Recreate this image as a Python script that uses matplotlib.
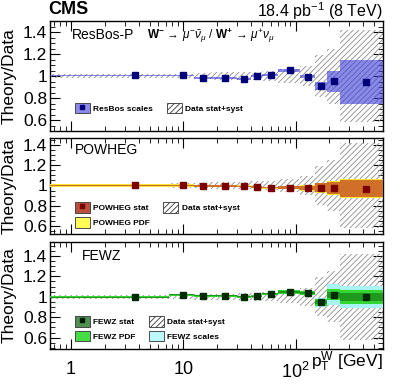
import numpy as np
import matplotlib
matplotlib.use('Agg')
import matplotlib.pyplot as plt
from matplotlib.patches import Patch
from matplotlib.lines import Line2D
from matplotlib.ticker import FixedLocator, MultipleLocator, FormatStrFormatter, LogLocator, NullFormatter

plt.rcParams['font.family'] = ['Liberation Sans', 'DejaVu Sans']
plt.rcParams['hatch.linewidth'] = 0.6
plt.rcParams['mathtext.fontset'] = 'custom'
plt.rcParams['mathtext.rm'] = 'Liberation Sans'
plt.rcParams['mathtext.it'] = 'Liberation Sans:italic'
plt.rcParams['mathtext.bf'] = 'Liberation Sans:bold'

# ---------------- data ----------------
pt_edges = [0.5, 7.5, 12.5, 17.5, 30, 40, 50, 70, 110, 150, 190, 250, 600]
pt_centers = [3.75, 10, 15, 23.75, 35, 45, 60, 90, 130, 170, 220, 425]

data_err = [0.018, 0.02, 0.028, 0.032, 0.036, 0.04, 0.045, 0.06, 0.09, 0.19, 0.25, 0.42]

resbos = [1.005, 1.005, 0.985, 0.985, 0.972, 0.997, 1.012, 1.052, 0.994, 0.911, 0.954, 0.948]
resbos_scale = [0.008, 0.008, 0.008, 0.008, 0.008, 0.008, 0.008, 0.012, 0.015, 0.035, 0.095, 0.2]

powheg = [1.0, 1.0, 0.996, 0.996, 0.993, 0.986, 0.98, 0.98, 0.973, 0.976, 0.973, 0.97]
powheg_stat = [0.006, 0.006, 0.006, 0.006, 0.006, 0.006, 0.006, 0.012, 0.022, 0.045, 0.06, 0.085]
powheg_pdf = [0.01, 0.01, 0.01, 0.01, 0.01, 0.01, 0.01, 0.016, 0.028, 0.052, 0.068, 0.095]

fewz = [0.995, 1.02, 1.01, 1.01, 1.0, 1.004, 1.03, 1.047, 1.036, 0.945, 1.02, 1.0]
fewz_stat = [0.005, 0.005, 0.005, 0.005, 0.005, 0.005, 0.005, 0.01, 0.012, 0.02, 0.03, 0.04]
fewz_pdf = [0.009, 0.009, 0.009, 0.009, 0.009, 0.009, 0.009, 0.015, 0.02, 0.035, 0.055, 0.07]
fewz_scale = [0.011, 0.011, 0.011, 0.011, 0.011, 0.011, 0.011, 0.017, 0.023, 0.04, 0.1, 0.105]

# ---------------- layout ----------------
W, H = 399, 387
fig = plt.figure(figsize=(W / 100, H / 100), dpi=100)

def px_axes(top, bottom, left=50, right=383):
    return fig.add_axes([left / W, 1 - bottom / H, (right - left) / W, (bottom - top) / H])

ax1 = px_axes(21, 131)
ax2 = px_axes(138, 234)
ax3 = px_axes(242, 349)
ylims = [(0.5, 1.5), (0.52, 1.47), (0.49, 1.535)]

def band(ax, center, half, **kw):
    c = np.array(center)
    h = np.array(half)
    ax.stairs(c + h, pt_edges, baseline=c - h, fill=True, **kw)

def data_band(ax):
    e = np.array(data_err)
    ax.stairs(1 + e, pt_edges, baseline=1 - e, fill=True, facecolor='none',
              edgecolor='#8c8c8c', hatch='//////', linewidth=0, zorder=2)

for ax, yl in zip([ax1, ax2, ax3], ylims):
    ax.set_xscale('log')
    ax.set_xlim(0.65, 600)
    ax.set_ylim(*yl)
    ax.yaxis.set_major_locator(FixedLocator([0.6, 0.8, 1.0, 1.2, 1.4]))
    ax.yaxis.set_major_formatter(FormatStrFormatter('%g'))
    ax.yaxis.set_minor_locator(MultipleLocator(0.05))
    ax.xaxis.set_major_locator(LogLocator(base=10, numticks=10))
    ax.xaxis.set_minor_locator(LogLocator(base=10, subs=np.arange(2, 10), numticks=20))
    ax.xaxis.set_minor_formatter(NullFormatter())
    ax.tick_params(which='both', direction='in', top=True, right=True, labelsize=12.5)
    ax.tick_params(which='major', length=7, width=0.8, pad=2)
    ax.tick_params(which='minor', length=3.5, width=0.6)
    for s in ax.spines.values():
        s.set_linewidth(1.0)
    ax.set_ylabel('Theory/Data', fontsize=12.5)
    ax.yaxis.set_label_coords(-0.1, 0.5)
    data_band(ax)

ax1.tick_params(axis='x', labelbottom=False)
ax2.tick_params(axis='x', labelbottom=False)
ax3.tick_params(axis='x', which='major', pad=9)
ax3.set_xticks([1, 10, 100])
ax3.set_xticklabels(['1', '10', '$10^{2}$'], fontsize=13)

mk = dict(marker='s', markersize=4, linestyle='none', zorder=6)

# ResBos
band(ax1, resbos, resbos_scale, facecolor='#3b3bd9', alpha=0.6, linewidth=0, zorder=3)
ax1.plot(pt_centers, resbos, color='#00007a', **mk)
h_resbos = (Patch(facecolor='#8c8ce8', edgecolor='#333333', linewidth=0.6),
            Line2D([], [], color='#00007a', marker='s', markersize=3, linestyle='none'))

# POWHEG
band(ax2, powheg, powheg_pdf, facecolor='#ffe633', linewidth=0, zorder=3)
band(ax2, powheg, powheg_stat, facecolor='#b22222', alpha=0.6, linewidth=0, zorder=4)
ax2.plot(pt_centers, powheg, color='#7a0000', **mk)
h_pstat = (Patch(facecolor='#b8503e', edgecolor='#333333', linewidth=0.6),
           Line2D([], [], color='#7a0000', marker='s', markersize=3, linestyle='none'))
h_ppdf = Patch(facecolor='#ffff55', edgecolor='#333333', linewidth=0.6)

# FEWZ
band(ax3, fewz, fewz_scale, facecolor='#a8f4f4', linewidth=0, zorder=3)
band(ax3, fewz, fewz_pdf, facecolor='#33d633', linewidth=0, zorder=4)
band(ax3, fewz, fewz_stat, facecolor='#0c6a0c', alpha=0.55, linewidth=0, zorder=5)
ax3.plot(pt_centers, fewz, color='#002a00', **mk)
h_fstat = (Patch(facecolor='#4f8f4f', edgecolor='#333333', linewidth=0.6),
           Line2D([], [], color='#001a00', marker='s', markersize=3, linestyle='none'))
h_fpdf = Patch(facecolor='#44dd44', edgecolor='#333333', linewidth=0.6)
h_fscale = Patch(facecolor='#bbf8f8', edgecolor='#333333', linewidth=0.6)

h_data = Patch(facecolor='white', edgecolor='#333333', hatch='//////', linewidth=0.6)

leg_kw = dict(ncol=2, frameon=False, prop={'size': 6, 'weight': 'bold'},
              handlelength=1.8, handleheight=1.6, handletextpad=0.4,
              columnspacing=1.6, labelspacing=0.5, loc='lower left', borderaxespad=0)

ax1.legend([h_resbos, h_data], ['ResBos scales', 'Data stat+syst'],
           bbox_to_anchor=(0.065, 0.13), **leg_kw)
ax2.legend([h_pstat, h_ppdf, h_data], ['POWHEG stat', 'POWHEG PDF', 'Data stat+syst'],
           bbox_to_anchor=(0.065, 0.03), **leg_kw)
ax3.legend([h_fstat, h_fpdf, h_data, h_fscale],
           ['FEWZ stat', 'FEWZ PDF', 'Data stat+syst', 'FEWZ scales'],
           bbox_to_anchor=(0.065, 0.04), **leg_kw)

ax1.text(0.065, 0.87, 'ResBos-P', transform=ax1.transAxes, fontsize=10, va='center')
ax1.text(0.29, 0.87, r'$\mathbf{W^{-}}\,\rightarrow\,\mu^{-}\bar{\nu}_{\mu}$ / $\mathbf{W^{+}}\,\rightarrow\,\mu^{+}\nu_{\mu}$',
         transform=ax1.transAxes, fontsize=8.5, va='center')
ax2.text(0.075, 0.87, 'POWHEG', transform=ax2.transAxes, fontsize=10, va='center')
ax3.text(0.095, 0.87, 'FEWZ', transform=ax3.transAxes, fontsize=10, va='center')

fig.text(48 / W, 1 - 10 / H, 'CMS', fontsize=13, fontweight='bold', va='center', ha='left')
fig.text(383 / W, 1 - 11 / H, r'18.4 pb$^{-1}$ (8 TeV)', fontsize=11.5, va='center', ha='right')
fig.text(383 / W, 1 - 362 / H, r'p$_{\mathrm{T}}^{\mathrm{W}}$ [GeV]', fontsize=12.5, va='center', ha='right')

fig.savefig('out.png', dpi=100)
